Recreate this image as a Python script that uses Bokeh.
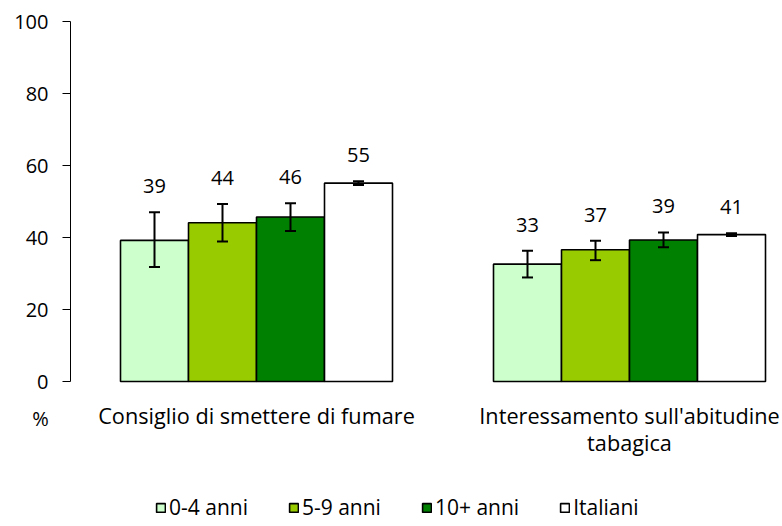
from bokeh.plotting import figure
from bokeh.models import (ColumnDataSource, Range1d, Whisker, LabelSet, Label,
                          Legend, LegendItem, FixedTicker, TeeHead, LinearAxis)
from bokeh.core.properties import value
from bokeh.embed import file_html
from bokeh.resources import INLINE

# ---- data ----
categories = [["Consiglio di smettere di fumare"],
              ["Interessamento sull'abitudine", "tabagica"]]
series_names = ["0-4 anni", "5-9 anni", "10+ anni", "Italiani"]
colors = ["#CCFFCC", "#99CC00", "#008000", "#FFFFFF"]

val_04 = [39.2, 32.6]
lo_04 = [31.8, 28.9]
hi_04 = [47.0, 36.3]

val_59 = [44.1, 36.6]
lo_59 = [38.9, 33.7]
hi_59 = [49.3, 39.1]

val_10 = [45.7, 39.3]
lo_10 = [41.8, 37.3]
hi_10 = [49.5, 41.4]

val_it = [55.1, 40.8]
lo_it = [54.6, 40.4]
hi_it = [55.6, 41.2]

y_ticks = [0, 20, 40, 60, 80, 100]

FONT = "Open Sans"
FS = "20px"

series = [(val_04, lo_04, hi_04), (val_59, lo_59, hi_59),
          (val_10, lo_10, hi_10), (val_it, lo_it, hi_it)]

W, H = 780, 524
px_per_x = 373.0          # pixels per category
px_per_y = 3.6            # pixels per percentage point
bar_w = 68 / px_per_x
n = len(series)
x0 = 1 - 256 / px_per_x   # left edge of the canvas in data units
y0 = -(H - 381) / px_per_y
axis_x = 1 - 186 / px_per_x

p = figure(width=W, height=H, output_backend="svg", toolbar_location=None,
           x_range=Range1d(x0, x0 + W / px_per_x),
           y_range=Range1d(y0, y0 + H / px_per_y),
           x_axis_location=None, y_axis_location=None,
           min_border=0, min_border_left=0, min_border_right=0,
           min_border_top=0, min_border_bottom=0)
p.outline_line_color = None
p.grid.visible = False
p.background_fill_color = "white"
p.border_fill_color = "white"

yax = LinearAxis(fixed_location=axis_x, bounds=(0, 100))
yax.ticker = FixedTicker(ticks=y_ticks)
yax.axis_line_color = "black"
yax.axis_line_width = 1
yax.major_tick_line_color = "black"
yax.major_tick_out = 8
yax.major_tick_in = 0
yax.minor_tick_out = 0
yax.minor_tick_in = 0
yax.major_label_standoff = 14
yax.major_label_text_font = FONT
yax.major_label_text_font_size = FS
yax.major_label_text_color = "black"
p.add_layout(yax, "left")

legend_items = []
for i, ((vals, lo, hi), name, col) in enumerate(zip(series, series_names, colors)):
    xs = [g + 1 + (i - (n - 1) / 2) * bar_w for g in range(len(categories))]
    src = ColumnDataSource(dict(x=xs, top=vals, lo=lo, hi=hi,
                                lab=[str(int(round(v))) for v in vals]))
    r = p.vbar(x="x", top="top", bottom=0, width=bar_w, source=src,
               fill_color=col, line_color="black", line_width=1.6)
    legend_items.append(LegendItem(label=name, renderers=[r]))
    w = Whisker(base="x", lower="lo", upper="hi", source=src, level="overlay",
                line_color="black", line_width=2,
                upper_head=TeeHead(size=11, line_color="black", line_width=2),
                lower_head=TeeHead(size=11, line_color="black", line_width=2))
    p.add_layout(w)
    ls = LabelSet(x="x", y="hi", text="lab", source=src, text_align="center",
                  text_baseline="middle", y_offset=26, text_font=value(FONT),
                  text_font_size=value(FS), text_color="black")
    p.add_layout(ls)

# category labels, one row per line of text
cx, cy, ct, coff = [], [], [], []
for g, lines in enumerate(categories):
    for k, line in enumerate(lines):
        cx.append(g + 1)
        cy.append(0)
        ct.append(line)
        coff.append(-42 - 27 * k)
cat_src = ColumnDataSource(dict(x=cx, y=cy, t=ct, off=coff))
p.add_layout(LabelSet(x="x", y="y", text="t", source=cat_src, text_align="center",
                      text_baseline="alphabetic", y_offset="off",
                      text_font=value(FONT), text_font_size=value("21.7px"),
                      text_color="black"))

p.add_layout(Label(x=40, y=H - 418, x_units="screen", y_units="screen", text="%",
                   text_align="center", text_baseline="middle", text_font=FONT,
                   text_font_size=FS, text_color="black"))

legend = Legend(items=legend_items, orientation="horizontal", location=(155, 3),
                glyph_width=11, glyph_height=11, label_standoff=3, spacing=40,
                padding=0, margin=0, border_line_color=None,
                background_fill_alpha=0, label_text_font=FONT,
                label_text_font_size="21px", label_text_color="black")
p.add_layout(legend, "center")

open("out.html", "w").write(file_html(p, INLINE))
